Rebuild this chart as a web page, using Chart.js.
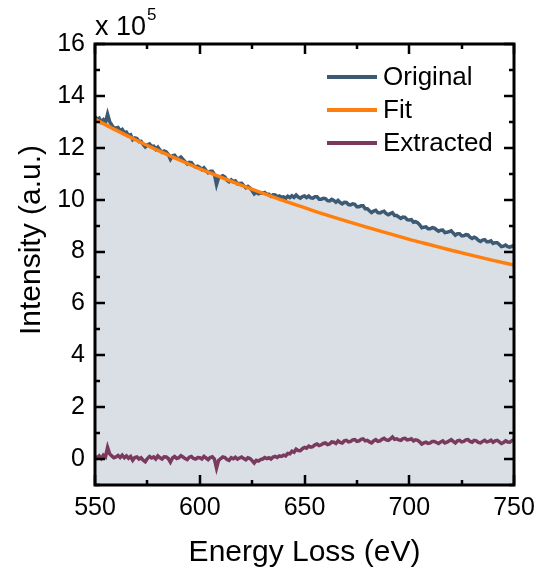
<!DOCTYPE html>
<html>
<head>
<meta charset="utf-8">
<script src="https://cdn.jsdelivr.net/npm/chart.js@4.4.1/dist/chart.umd.min.js"></script>
<style>
  html, body { margin: 0; padding: 0; background: #fff; }
  #wrap { width: 539px; height: 573px; }
</style>
</head>
<body>
<div id="wrap"><canvas id="chart-eels" width="539" height="573"></canvas></div>
<script>
// energy loss grid (eV) for the measured spectra, 1 eV channels
const energy = [
  550, 551, 552, 553, 554, 555, 556, 557, 558, 559,
  560, 561, 562, 563, 564, 565, 566, 567, 568, 569,
  570, 571, 572, 573, 574, 575, 576, 577, 578, 579,
  580, 581, 582, 583, 584, 585, 586, 587, 588, 589,
  590, 591, 592, 593, 594, 595, 596, 597, 598, 599,
  600, 601, 602, 603, 604, 605, 606, 607, 608, 609,
  610, 611, 612, 613, 614, 615, 616, 617, 618, 619,
  620, 621, 622, 623, 624, 625, 626, 627, 628, 629,
  630, 631, 632, 633, 634, 635, 636, 637, 638, 639,
  640, 641, 642, 643, 644, 645, 646, 647, 648, 649,
  650, 651, 652, 653, 654, 655, 656, 657, 658, 659,
  660, 661, 662, 663, 664, 665, 666, 667, 668, 669,
  670, 671, 672, 673, 674, 675, 676, 677, 678, 679,
  680, 681, 682, 683, 684, 685, 686, 687, 688, 689,
  690, 691, 692, 693, 694, 695, 696, 697, 698, 699,
  700, 701, 702, 703, 704, 705, 706, 707, 708, 709,
  710, 711, 712, 713, 714, 715, 716, 717, 718, 719,
  720, 721, 722, 723, 724, 725, 726, 727, 728, 729,
  730, 731, 732, 733, 734, 735, 736, 737, 738, 739,
  740, 741, 742, 743, 744, 745, 746, 747, 748, 749,
  750
];

// raw spectrum, x 10^5
const original = [
  13.20, 13.10, 13.14, 12.99, 13.08, 12.97, 13.30, 13.01, 12.88, 12.77,
  12.76, 12.78, 12.66, 12.71, 12.57, 12.60, 12.47, 12.50, 12.31, 12.38,
  12.36, 12.24, 12.25, 12.13, 12.03, 12.11, 12.15, 12.05, 12.06, 11.94,
  12.02, 11.91, 11.83, 11.88, 11.84, 11.74, 11.56, 11.69, 11.71, 11.60,
  11.59, 11.64, 11.55, 11.46, 11.38, 11.44, 11.43, 11.32, 11.26, 11.29,
  11.24, 11.16, 11.23, 11.13, 11.04, 11.09, 11.09, 10.97, 10.58, 10.85,
  10.89, 10.92, 10.87, 10.75, 10.69, 10.76, 10.69, 10.72, 10.61, 10.62,
  10.63, 10.54, 10.46, 10.51, 10.45, 10.34, 10.22, 10.29, 10.23, 10.26,
  10.25, 10.28, 10.21, 10.21, 10.13, 10.19, 10.18, 10.11, 10.14, 10.09,
  10.11, 10.05, 10.13, 10.08, 10.15, 10.09, 10.18, 10.10, 10.06, 10.12,
  10.14, 10.08, 10.14, 10.07, 10.06, 10.11, 10.11, 10.02, 10.02, 10.05,
  10.04, 9.96, 9.95, 10.01, 9.97, 9.90, 9.97, 9.89, 9.84, 9.90,
  9.89, 9.81, 9.80, 9.84, 9.82, 9.73, 9.73, 9.76, 9.76, 9.65,
  9.65, 9.57, 9.50, 9.56, 9.59, 9.50, 9.49, 9.53, 9.55, 9.46,
  9.42, 9.46, 9.50, 9.39, 9.39, 9.33, 9.28, 9.33, 9.32, 9.23,
  9.22, 9.23, 9.13, 9.15, 9.11, 9.03, 8.92, 8.94, 8.95, 8.88,
  8.88, 8.92, 8.90, 8.84, 8.78, 8.82, 8.83, 8.73, 8.74, 8.77,
  8.80, 8.71, 8.63, 8.69, 8.69, 8.61, 8.61, 8.65, 8.64, 8.55,
  8.50, 8.55, 8.51, 8.43, 8.39, 8.44, 8.46, 8.38, 8.38, 8.41,
  8.31, 8.34, 8.34, 8.27, 8.19, 8.21, 8.25, 8.19, 8.17, 8.21,
  8.23
];

// background-subtracted edge, x 10^5
const extracted = [
  0.10, 0.04, 0.12, 0.02, 0.15, 0.08, 0.45, 0.20, 0.12, 0.05,
  0.08, 0.14, 0.06, 0.15, 0.05, 0.12, 0.03, 0.10, -0.05, 0.06,
  0.08, 0.00, 0.05, -0.04, -0.10, 0.02, 0.10, 0.04, 0.08, 0.00,
  0.12, 0.05, 0.00, 0.09, 0.08, 0.02, -0.12, 0.04, 0.10, 0.02,
  0.05, 0.13, 0.08, 0.02, -0.02, 0.07, 0.10, 0.02, 0.00, 0.06,
  0.05, 0.00, 0.10, 0.04, -0.02, 0.06, 0.09, 0.00, -0.35, -0.05,
  0.02, 0.08, 0.06, -0.02, -0.05, 0.05, 0.01, 0.07, 0.00, 0.04,
  0.08, 0.02, -0.03, 0.05, 0.02, -0.06, -0.15, -0.05, -0.08, -0.02,
  0.00, 0.06, 0.02, 0.05, 0.00, 0.08, 0.10, 0.06, 0.12, 0.10,
  0.15, 0.12, 0.22, 0.20, 0.30, 0.26, 0.38, 0.33, 0.32, 0.40,
  0.45, 0.42, 0.50, 0.46, 0.48, 0.55, 0.58, 0.52, 0.55, 0.60,
  0.62, 0.56, 0.58, 0.66, 0.65, 0.60, 0.70, 0.64, 0.62, 0.70,
  0.72, 0.66, 0.68, 0.74, 0.75, 0.68, 0.70, 0.76, 0.78, 0.70,
  0.72, 0.66, 0.62, 0.70, 0.75, 0.68, 0.70, 0.76, 0.80, 0.74,
  0.72, 0.78, 0.85, 0.76, 0.78, 0.74, 0.72, 0.79, 0.80, 0.74,
  0.75, 0.78, 0.70, 0.74, 0.72, 0.66, 0.58, 0.62, 0.65, 0.60,
  0.62, 0.68, 0.68, 0.64, 0.60, 0.66, 0.70, 0.62, 0.65, 0.70,
  0.75, 0.68, 0.62, 0.70, 0.72, 0.66, 0.68, 0.74, 0.75, 0.68,
  0.65, 0.72, 0.70, 0.64, 0.62, 0.68, 0.72, 0.66, 0.68, 0.73,
  0.65, 0.70, 0.72, 0.66, 0.60, 0.64, 0.70, 0.66, 0.65, 0.71,
  0.75
];

// power-law background fit
const fitEnergy = [550, 560, 570, 580, 590, 600, 610, 620, 630, 640, 650, 660, 670, 680, 690, 700, 710, 720, 730, 740, 750];
const fitValues = [13.10, 12.68, 12.28, 11.90, 11.54, 11.19, 10.87, 10.55, 10.25, 9.96, 9.69, 9.42, 9.17, 8.93, 8.70, 8.47, 8.26, 8.05, 7.85, 7.66, 7.48];

const seriesNames = ['Original', 'Fit', 'Extracted'];
const seriesColors = ['#3c5a74', '#ff7f0e', '#7a3a5e'];

function pts(xs, ys){ return xs.map((x, i) => ({ x: x, y: ys[i] })); }

const FONT = "'Liberation Sans', Arial, sans-serif";

// inward ticks on all four sides + the closed frame, titles and legend
const frameDecor = {
  id: 'frameDecor',
  afterDraw(chart){
    const ctx = chart.ctx;
    const a = chart.chartArea;
    const xs = chart.scales.x, ys = chart.scales.y;
    ctx.save();
    ctx.strokeStyle = '#000';
    ctx.lineWidth = 2.5;
    ctx.beginPath();
    xs.ticks.forEach(t => {
      const px = Math.round(xs.getPixelForValue(t.value));
      const len = t.value % 50 === 0 ? 10 : 5;
      ctx.moveTo(px, a.bottom); ctx.lineTo(px, a.bottom - len);
      ctx.moveTo(px, a.top); ctx.lineTo(px, a.top + len);
    });
    ys.ticks.forEach(t => {
      const py = Math.round(ys.getPixelForValue(t.value));
      const len = t.value % 2 === 0 ? 10 : 5;
      ctx.moveTo(a.left, py); ctx.lineTo(a.left + len, py);
      ctx.moveTo(a.right, py); ctx.lineTo(a.right - len, py);
    });
    ctx.stroke();
    ctx.lineWidth = 3;
    ctx.strokeRect(a.left, a.top, a.right - a.left, a.bottom - a.top);

    // axis titles
    ctx.fillStyle = '#000';
    ctx.font = '30px ' + FONT;
    ctx.textAlign = 'center';
    ctx.textBaseline = 'alphabetic';
    ctx.fillText('Energy Loss (eV)', (a.left + a.right) / 2, 561);
    ctx.save();
    ctx.translate(40, 240);
    ctx.rotate(-Math.PI / 2);
    ctx.fillText('Intensity (a.u.)', 0, 0);
    ctx.restore();

    // multiplier
    ctx.textAlign = 'left';
    ctx.font = '27px ' + FONT;
    ctx.fillText('x 10', a.left, 35);
    const w = ctx.measureText('x 10').width;
    ctx.font = '17px ' + FONT;
    ctx.fillText('5', a.left + w + 1, 20);

    // legend
    ctx.font = '26px ' + FONT;
    ctx.textBaseline = 'middle';
    chart.data.datasets.forEach((ds, i) => {
      const y = 77 + i * 33;
      ctx.strokeStyle = ds.borderColor;
      ctx.lineWidth = 4;
      ctx.beginPath();
      ctx.moveTo(327, y); ctx.lineTo(377, y);
      ctx.stroke();
      ctx.fillStyle = '#000';
      ctx.fillText(ds.label, 383, y + 1);
    });
    ctx.restore();
  }
};

const chart = new Chart(document.getElementById('chart-eels'), {
  type: 'line',
  data: {
    datasets: [
      { label: seriesNames[0], data: pts(energy, original), borderColor: seriesColors[0], borderWidth: 3.5,
        fill: 'start', backgroundColor: '#dadfe5', order: 3, tension: 0 },
      { label: seriesNames[1], data: pts(fitEnergy, fitValues), borderColor: seriesColors[1], borderWidth: 3.5,
        fill: false, order: 1, cubicInterpolationMode: 'monotone' },
      { label: seriesNames[2], data: pts(energy, extracted), borderColor: seriesColors[2], borderWidth: 3.5,
        fill: false, order: 2, tension: 0 }
    ]
  },
  options: {
    responsive: false,
    animation: false,
    devicePixelRatio: 1,
    layout: { padding: { left: 0, right: 25, top: 44, bottom: 0 } },
    elements: { point: { radius: 0 } },
    plugins: { legend: { display: false }, tooltip: { enabled: false } },
    scales: {
      x: {
        type: 'linear', min: 550, max: 750,
        grid: { display: false, drawTicks: false },
        border: { display: false },
        ticks: { stepSize: 25, autoSkip: false, maxRotation: 0, padding: 8, color: '#000',
          font: { family: FONT, size: 25 },
          callback: v => (v % 50 === 0 ? v : '') },
        afterFit: s => { s.height = 88; s.paddingLeft = 0; s.paddingRight = 0; }
      },
      y: {
        min: -1, max: 16,
        grid: { display: false, drawTicks: false },
        border: { display: false },
        ticks: { stepSize: 1, autoSkip: false, padding: 10, color: '#000',
          font: { family: FONT, size: 25 },
          callback: v => (v % 2 === 0 ? v : '') },
        afterFit: s => { s.width = 95; s.paddingTop = 0; s.paddingBottom = 0; }
      }
    }
  },
  plugins: [frameDecor]
});
</script>
</body>
</html>
